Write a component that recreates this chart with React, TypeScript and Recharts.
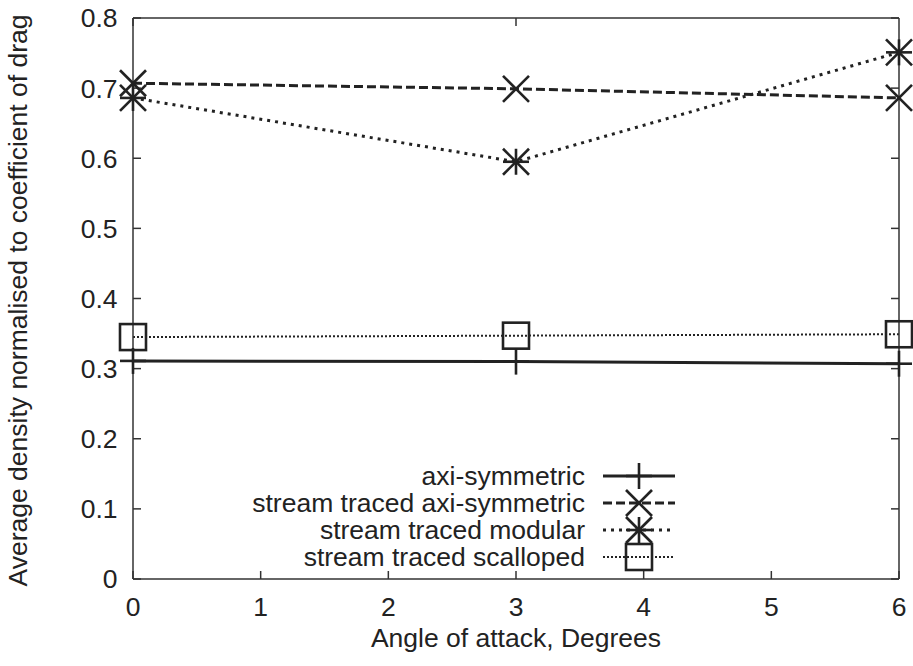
import { LineChart, Line, XAxis, YAxis, Legend } from "recharts";

const angles = [0, 3, 6];
const axiSymmetric = [0.311, 0.31, 0.307];
const streamAxiSymmetric = [0.707, 0.699, 0.686];
const streamModular = [0.686, 0.595, 0.751];
const streamScalloped = [0.345, 0.347, 0.349];

const xTicks = [0, 1, 2, 3, 4, 5, 6];
const yTicks = [0, 0.1, 0.2, 0.3, 0.4, 0.5, 0.6, 0.7, 0.8];

const FONT = '"Liberation Sans", Arial, Helvetica, sans-serif';
const INK = "#222";

type Shape = "plus" | "cross" | "star" | "square";

const series: Array<{
  key: string;
  name: string;
  shape: Shape;
  dash?: string;
  width: number;
}> = [
  { key: "axi", name: "axi-symmetric", shape: "plus", width: 3 },
  { key: "sAxi", name: "stream traced axi-symmetric", shape: "cross", dash: "9 4", width: 3 },
  { key: "sMod", name: "stream traced modular", shape: "star", dash: "3 5", width: 3 },
  { key: "sScal", name: "stream traced scalloped", shape: "square", dash: "2 2", width: 2 },
];

const data = angles.map((a, i) => ({
  angle: a,
  axi: axiSymmetric[i],
  sAxi: streamAxiSymmetric[i],
  sMod: streamModular[i],
  sScal: streamScalloped[i],
}));

const Marker = ({ shape, cx, cy, r = 13 }: { shape: Shape; cx: number; cy: number; r?: number }) => {
  const sw = 2.6;
  if (shape === "square") {
    return (
      <rect x={cx - r} y={cy - r} width={2 * r} height={2 * r} fill="none" stroke={INK} strokeWidth={sw} />
    );
  }
  const plus = (
    <>
      <line x1={cx - r} y1={cy} x2={cx + r} y2={cy} stroke={INK} strokeWidth={sw} />
      <line x1={cx} y1={cy - r} x2={cx} y2={cy + r} stroke={INK} strokeWidth={sw} />
    </>
  );
  const cross = (
    <>
      <line x1={cx - r} y1={cy - r} x2={cx + r} y2={cy + r} stroke={INK} strokeWidth={sw} />
      <line x1={cx - r} y1={cy + r} x2={cx + r} y2={cy - r} stroke={INK} strokeWidth={sw} />
    </>
  );
  return (
    <g>
      {shape !== "cross" && plus}
      {shape !== "plus" && cross}
    </g>
  );
};

const LegendBox = () => (
  <svg width={700} height={130} style={{ display: "block", overflow: "visible" }}>
    {series.map((s, i) => {
      const y = 21 + i * 27;
      return (
        <g key={s.key}>
          <text x={585} y={y + 9} textAnchor="end" fontFamily={FONT} fontSize={26.5} fill={INK}>
            {s.name}
          </text>
          <line x1={603} y1={y} x2={675} y2={y} stroke={INK} strokeWidth={s.width} strokeDasharray={s.dash} />
          <Marker shape={s.shape} cx={639} cy={y} />
        </g>
      );
    })}
  </svg>
);

const YLabel = (props: any) => {
  const vb = props.viewBox || {};
  const cy = vb.y + vb.height / 2 + 2;
  return (
    <text
      x={27}
      y={cy}
      transform={`rotate(-90 27 ${cy})`}
      textAnchor="middle"
      fontFamily={FONT}
      fontSize={26.5}
      fill={INK}
    >
      Average density normalised to coefficient of drag
    </text>
  );
};

const XLabel = (props: any) => {
  const vb = props.viewBox || {};
  return (
    <text x={vb.x + vb.width / 2} y={647} textAnchor="middle" fontFamily={FONT} fontSize={26.5} fill={INK}>
      Angle of attack, Degrees
    </text>
  );
};

const noTick = () => <g />;

export default function App() {
  return (
    <div style={{ position: "absolute", left: 0, top: 0, width: 913, height: 666, background: "#fff" }}>
      <LineChart width={913} height={666} data={data} margin={{ top: 0, right: 0, bottom: 0, left: 0 }}>
        <XAxis
          dataKey="angle"
          type="number"
          domain={[0, 6]}
          ticks={xTicks}
          height={87}
          tickSize={-8}
          tickMargin={26}
          axisLine={{ stroke: "#333", strokeWidth: 1.5 }}
          tickLine={{ stroke: "#333", strokeWidth: 1.5 }}
          tick={{ fontFamily: FONT, fontSize: 26.5, fill: INK }}
          label={{ content: XLabel }}
        />
        <XAxis
          xAxisId="top"
          orientation="top"
          type="number"
          domain={[0, 6]}
          allowDataOverflow
          ticks={xTicks}
          height={18}
          tickSize={-8}
          axisLine={{ stroke: "#333", strokeWidth: 1.5 }}
          tickLine={{ stroke: "#333", strokeWidth: 1.5 }}
          tick={noTick}
        />
        <YAxis
          type="number"
          domain={[0, 0.8]}
          ticks={yTicks}
          width={133}
          tickSize={-8}
          tickMargin={23.5}
          tickFormatter={(v: number) => (v === 0 ? "0" : v.toFixed(1))}
          axisLine={{ stroke: "#333", strokeWidth: 1.5 }}
          tickLine={{ stroke: "#333", strokeWidth: 1.5 }}
          tick={{ fontFamily: FONT, fontSize: 26.5, fill: INK }}
          label={{ content: YLabel }}
        />
        <YAxis
          yAxisId="right"
          orientation="right"
          type="number"
          domain={[0, 0.8]}
          allowDataOverflow
          ticks={yTicks}
          width={14}
          tickSize={-8}
          axisLine={{ stroke: "#333", strokeWidth: 1.5 }}
          tickLine={{ stroke: "#333", strokeWidth: 1.5 }}
          tick={noTick}
        />
        {series.map((s) => (
          <Line
            key={s.key}
            dataKey={s.key}
            name={s.name}
            type="linear"
            stroke={INK}
            strokeWidth={s.width}
            strokeDasharray={s.dash}
            isAnimationActive={false}
            dot={(p: any) => <Marker key={`${s.key}-${p.index}`} shape={s.shape} cx={p.cx} cy={p.cy} />}
            activeDot={false}
          />
        ))}
        <Legend
          layout="horizontal"
          verticalAlign="middle"
          align="center"
          wrapperStyle={{ position: "absolute", left: 0, top: 455, width: 700 }}
          content={LegendBox}
        />
      </LineChart>
    </div>
  );
}
